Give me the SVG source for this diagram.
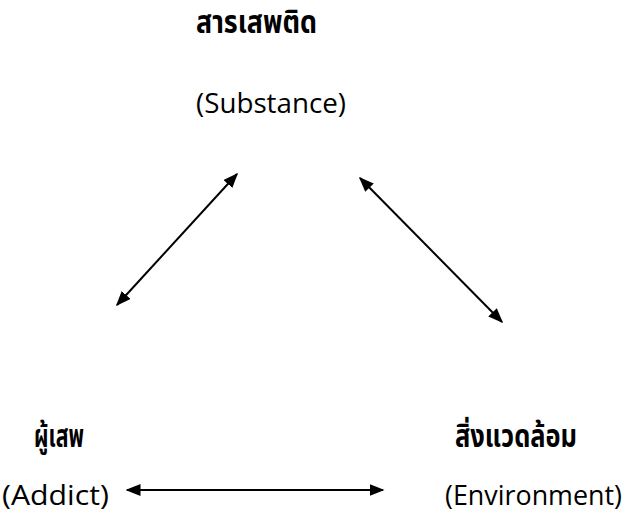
<svg xmlns="http://www.w3.org/2000/svg" width="629" height="530" viewBox="0 0 629 530">
<style>
.th{font-family:"Noto Sans Thai","Leelawadee UI","Tahoma","Noto Sans","DejaVu Sans",sans-serif;font-weight:bold;font-size:31px;fill:#000}
.en{font-family:"Open Sans","Noto Sans",sans-serif;font-size:28px;fill:#000}
.c{stroke:#000;stroke-width:2;fill:none;marker-start:url(#a);marker-end:url(#a)}
</style>
<defs>
<marker id="a" viewBox="0 0 10 10" refX="9" refY="5" markerWidth="15" markerHeight="12" markerUnits="userSpaceOnUse" orient="auto-start-reverse" preserveAspectRatio="none">
<path d="M0,0L10,5L0,10z" fill="#000"/>
</marker>
</defs>
<rect width="629" height="530" fill="#fff"/>
<g id="substance">
<text class="th" x="196" y="33" textLength="121" lengthAdjust="spacingAndGlyphs">สารเสพติด</text>
<text class="en" x="196" y="113" textLength="150" lengthAdjust="spacingAndGlyphs">(Substance)</text>
</g>
<g id="addict">
<text class="th" x="34" y="447" textLength="50" lengthAdjust="spacingAndGlyphs">ผู้เสพ</text>
<text class="en" x="2" y="505" textLength="107" lengthAdjust="spacingAndGlyphs">(Addict)</text>
</g>
<g id="environment">
<text class="th" x="455" y="447" textLength="122" lengthAdjust="spacingAndGlyphs">สิ่งแวดล้อม</text>
<text class="en" x="445" y="505" textLength="177" lengthAdjust="spacingAndGlyphs">(Environment)</text>
</g>
<g id="connectors">
<line class="c" x1="117" y1="305" x2="237" y2="174"/>
<line class="c" x1="360" y1="178" x2="502" y2="322"/>
<line class="c" x1="127" y1="490" x2="383" y2="490"/>
</g>
</svg>
